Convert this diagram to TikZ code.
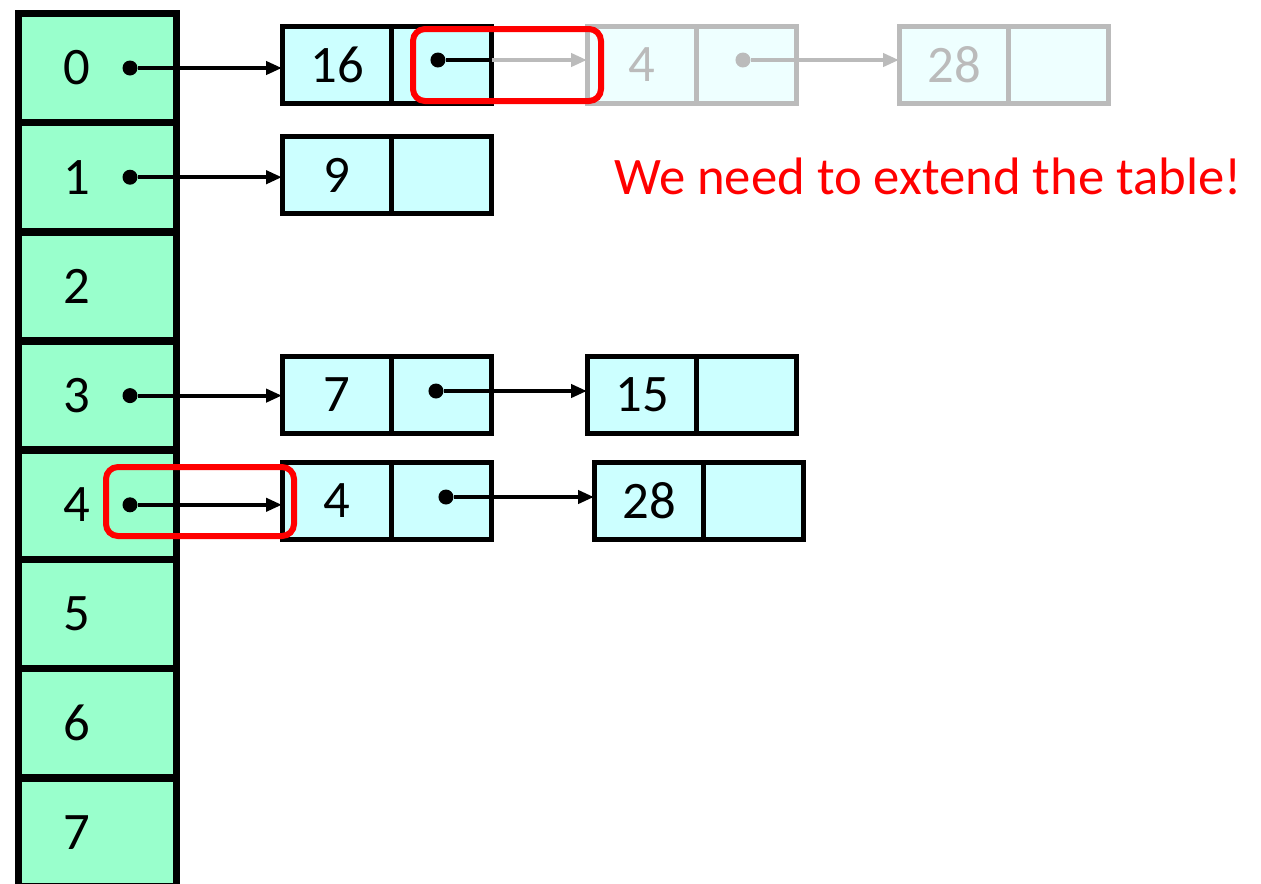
\documentclass[tikz,border=0pt]{standalone}
\usepackage{fontspec}
\setmainfont{Carlito}
\usetikzlibrary{arrows.meta}
\definecolor{slotgreen}{HTML}{99FFCC}
\definecolor{cellcyan}{HTML}{CCFFFF}
\definecolor{ghostfill}{HTML}{EEFFFF}
\definecolor{ghostgray}{HTML}{BBBBBB}
\tikzset{
  slot/.style={draw=black, fill=slotgreen, line width=0.15cm, outer sep=0pt,
    minimum width=3.16cm, minimum height=2.184cm},
  keycell/.style={draw=black, fill=cellcyan, line width=0.1cm, outer sep=0pt,
    minimum width=2.2cm, minimum height=1.54cm, anchor=west},
  ptrcell/.style={keycell, minimum width=2.0cm},
  ghost/.style={draw=ghostgray, fill=ghostfill, text=ghostgray},
  link/.style={line width=0.08cm, -{Triangle[length=0.32cm, width=0.26cm]}},
  dot/.style={circle, fill=black, inner sep=0pt, minimum size=0.3cm},
  hilite/.style={draw=red, line width=0.12cm, rounded corners=0.24cm},
}
\begin{document}
\begin{tikzpicture}[x=0.02cm, y=-0.02cm, font=\fontsize{30}{36}\selectfont]
  \useasboundingbox (0,0) rectangle (1261,883);
  % hash table slots
  \foreach \i in {0,...,7} {
    \node[slot] (r\i) at (97.5,{68+109.2*\i}) {};
    \node (l\i) at (77,{68+109.2*\i}) {\i};
  }
  \foreach \i in {0,1,3,4}
    \node[dot] (d\i) at (130,{68+109.2*\i}) {};
  % chains
  \foreach \nm/\x/\y/\k in {a/282/65/16, b/282/175/9, c/282/395/7,
                           d/587/395/15, e/282/501/4, f/594/501/28} {
    \node[keycell] (\nm k) at (\x,\y) {\k};
    \node[ptrcell] (\nm p) at (\nm k.east) {};
  }
  % old entries, greyed out
  \node[keycell, ghost] (gk) at (587,65) {4};
  \node[ptrcell, ghost] (gp) at (gk.east) {};
  \node[keycell, ghost] (hk) at (899,65) {28};
  \node[ptrcell, ghost] (hp) at (hk.east) {};
  % pointers
  \foreach \i/\nm in {0/a, 1/b, 3/c, 4/e}
    \draw[link] (d\i) -- (\nm k.west |- d\i);
  \node[dot] (da) at ([xshift=-0.08cm, yshift=0.1cm]ap.center) {};
  \node[dot] (dc) at ([xshift=-0.12cm, yshift=0.08cm]cp.center) {};
  \node[dot] (de) at ([xshift=0.08cm, yshift=0.08cm]ep.center) {};
  \node[dot, fill=ghostgray] (dg) at ([xshift=-0.08cm, yshift=0.1cm]gp.center) {};
  \draw[link] (dc) -- (dk.west |- dc);
  \draw[link] (de) -- (fk.west |- de);
  \draw[link, ghostgray] (dg) -- (hk.west |- dg);
  \draw[line width=0.08cm] (da) -- (ap.east |- da);
  \draw[link, ghostgray] (ap.east |- da) -- (gk.west |- da);
  % highlights
  \draw[hilite] (413,29) rectangle (601,101);
  \draw[hilite] (106,467) rectangle (294,536);
  \node[text=red] (msg) at (928,176) {We need to extend the table!};
\end{tikzpicture}
\end{document}
